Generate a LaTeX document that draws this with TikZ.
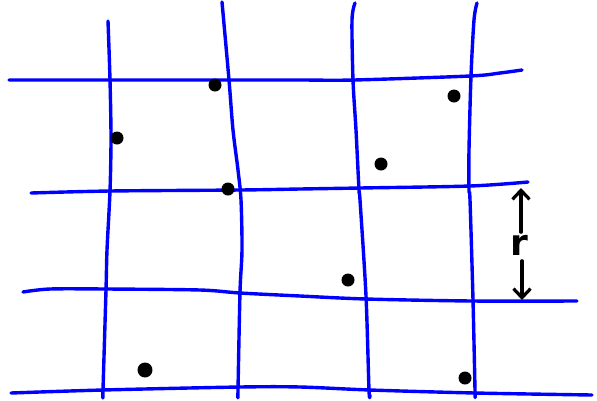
\documentclass[tikz,border=0pt]{standalone}
\usepackage{fontspec}
\newfontfamily\labelfont{DejaVu Sans}
\usetikzlibrary{arrows.meta}
\begin{document}
\begin{tikzpicture}[x=1pt,y=-1pt,
  gridline/.style={draw=blue, line width=3.4pt, line cap=round, line join=round},
  dot/.style={circle, fill=black, inner sep=0pt, minimum size=13pt},
  measure/.style={draw=black, line width=3.2pt, line cap=round,
    -{Straight Barb[length=9pt,width=17pt,line width=3.2pt]}},
  rlabel/.style={inner sep=2.5pt, font=\labelfont\bfseries\fontsize{36}{36}\selectfont}]
\useasboundingbox (0,0) rectangle (597,400);
% horizontal lines
\draw[gridline] plot[smooth, tension=0.5] coordinates {(9,80) (110,80) (230,80) (300,80) (354,80) (470,76) (500,73) (522,70)};
\draw[gridline] plot[smooth, tension=0.5] coordinates {(31,193) (110,191) (240,190) (300,189) (360,188) (470,186) (528,182)};
\draw[gridline] plot[smooth, tension=0.5] coordinates {(23,292) (50,289) (106,289) (200,290) (240,293) (300,296) (366,299) (472,301) (577,301)};
\draw[gridline] plot[smooth, tension=0.5] coordinates {(11,393) (103,390) (240,387) (300,387) (370,390) (475,393) (592,395)};
% vertical lines
\draw[gridline] plot[smooth, tension=0.5] coordinates {(108,21) (110,80) (111,138) (110,191) (107,250) (106,290) (103,390) (103,395)};
\draw[gridline] plot[smooth, tension=0.5] coordinates {(222,2) (229,80) (233,130) (238,170) (241,200) (242,250) (240,292) (238,390) (238,395)};
\draw[gridline] plot[smooth, tension=0.5] coordinates {(355,3) (352,20) (353,80) (356,130) (359,190) (360,200) (366,296) (369,390) (370,395)};
\draw[gridline] plot[smooth, tension=0.5] coordinates {(477,3) (474,20) (471,76) (469,150) (469,190) (470,200) (473,300) (475,390) (475,395)};
% points
\node[dot] (p1) at (215,85) {};
\node[dot] (p2) at (117,138) {};
\node[dot] (p3) at (228,189) {};
\node[dot] (p4) at (454,96) {};
\node[dot] (p5) at (381,164) {};
\node[dot] (p6) at (348,280) {};
\node[dot] (p7) at (465,378) {};
\node[dot, minimum width=13pt, minimum height=15pt, rotate=20] (p8) at (145,370) {};
% distance r
\coordinate (rtop) at (521,188);
\coordinate (rbot) at (522,300);
\node[rlabel] (r) at (519,245) {r};
\draw[measure] (r.north -| rtop) -- (rtop);
\draw[measure] ([yshift=-3pt]r.south -| rbot) -- (rbot);
\end{tikzpicture}
\end{document}
